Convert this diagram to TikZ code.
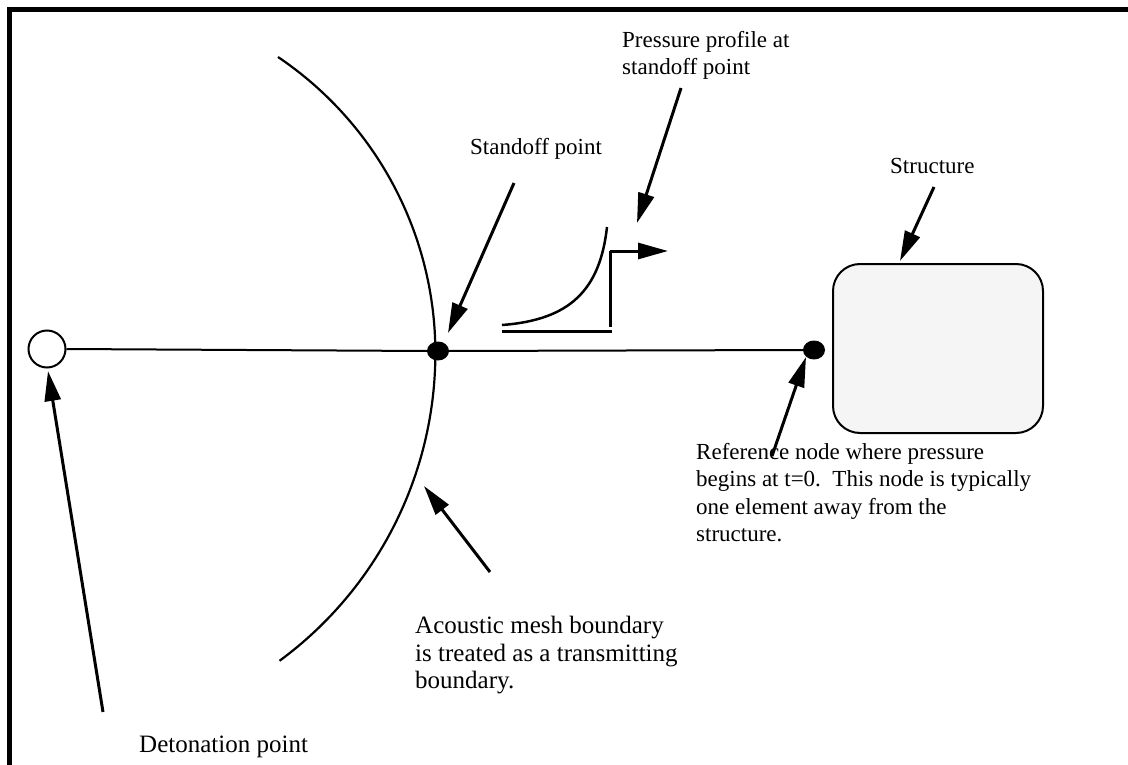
\documentclass[tikz,border=0pt]{standalone}
\usepackage{fontspec}
\setmainfont{Liberation Serif}
\usetikzlibrary{arrows.meta,shapes.geometric}
\begin{document}
\begin{tikzpicture}[x=1pt,y=-1pt,
  lbl/.style={font=\fontsize{23}{27.5}\selectfont, inner sep=0pt, align=left, anchor=north west},
  biglbl/.style={lbl, font=\fontsize{25}{27.5}\selectfont},
  pointer/.style={line width=3pt, -{Triangle[length=30pt,width=16pt]}},
  dot/.style={ellipse, fill=black, minimum width=22pt, minimum height=19pt, inner sep=0pt},
  thinline/.style={line width=2pt}]
\useasboundingbox (0,0) rectangle (1128,765);
% frame
\draw[line width=5pt] (9,765) -- (9,10) -- (1128,10);
% nodes
\node[circle, draw, line width=2pt, fill=white, minimum size=37pt, inner sep=0pt] (det) at (47,349) {};
\node[dot] (so) at (438,351) {};
\node[dot] (ref) at (814,350) {};
\node[draw, line width=2pt, fill=gray!8, rounded corners=27pt, minimum width=210pt, minimum height=169pt, inner sep=0pt] (struct) at (938,348.5) {};
% main line
\draw[thinline] (det.east) -- (so.west);
\draw[thinline] (so.east) -- (ref.west);
% mesh boundary arc
\draw[line width=2.2pt] (278,57) arc[start angle=-56, end angle=0, radius=357]
   arc[start angle=0, end angle=53.7, radius=382];
% pressure profile
\draw[line width=2.5pt] (502,325) .. controls (570,320) and (600,290) .. (607,227);
\draw[line width=3pt] (502,331) -- (612,331);
\draw[line width=3pt] (610,327) -- (610,251);
\coordinate (pp) at (610,251);
\coordinate (ppend) at (668,251);
\draw[pointer] (pp) -- (ppend);
% labels
\node[lbl] (tprof) at (622,31) {Pressure profile at\\standoff point};
\node[lbl] (tso) at (470,138) {Standoff point};
\node[lbl] (tst) at (890,158) {Structure};
\node[lbl] (tref) at (696,443) {Reference node where pressure\\begins at t=0.\ \ This node is typically\\one element away from the\\structure.};
\node[biglbl] (tac) at (415,616) {Acoustic mesh boundary\\is treated as a transmitting\\boundary.};
\node[biglbl] (tdet) at (139,736) {Detonation point};
% pointer arrows
\coordinate (a1s) at (681,88);  \coordinate (a1e) at (637,223);
\coordinate (a2s) at (514,183); \coordinate (a2e) at (448,333);
\coordinate (a3s) at (934,187); \coordinate (a3e) at (900,261);
\coordinate (a4s) at (772,456); \coordinate (a4e) at (806,357);
\coordinate (a5s) at (490,572); \coordinate (a5e) at (424,486);
\coordinate (a6s) at (103,712); \coordinate (a6e) at (48,371);
\draw[pointer] (a1s) -- (a1e);
\draw[pointer] (a2s) -- (a2e);
\draw[pointer] (a3s) -- (a3e);
\draw[pointer] (a4s) -- (a4e);
\draw[pointer] (a5s) -- (a5e);
\draw[pointer] (a6s) -- (a6e);
\end{tikzpicture}
\end{document}
